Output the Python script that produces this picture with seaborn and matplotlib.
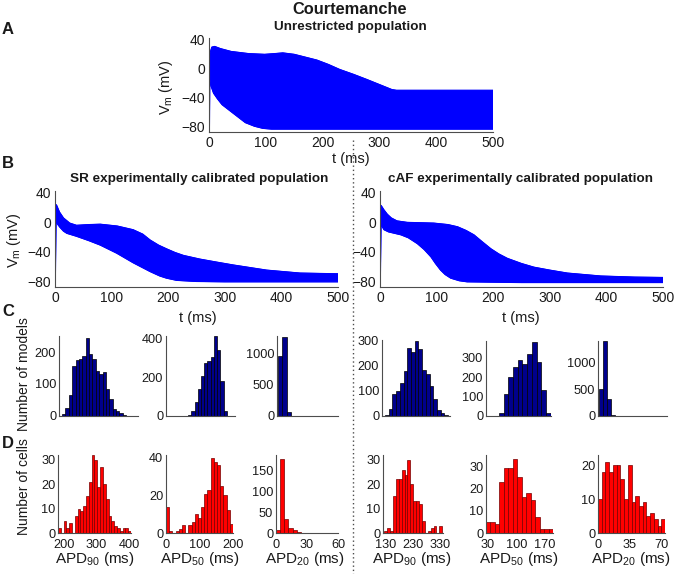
import numpy as np
import pandas as pd
import matplotlib
matplotlib.use('Agg')
import matplotlib.pyplot as plt
import seaborn as sns
from matplotlib.lines import Line2D

# Action potential envelopes (t in ms, Vm in mV)
# A: unrestricted population
a_up_t = [0, 1, 5, 10, 20, 39, 70, 98, 115, 130, 150, 170, 190, 210, 230, 255, 278, 300, 322, 330, 500]
a_up_v = [-80, 20, 30, 31, 28, 24, 21, 20, 21, 22, 20, 16, 12, 6, -1, -8, -15, -22, -29, -30, -30]
a_lo_t = [0.8, 1.5, 4, 8, 15, 23, 41, 64, 80, 95, 110, 500]
a_lo_v = [-80, -15, -25, -34, -42, -50, -61, -75, -80, -83, -84, -84]

# B: SR calibrated population
sr_up_t = [0, 1, 2.5, 8, 15, 26, 38, 60, 80, 110, 138, 155, 168, 183, 197, 212, 227, 256, 285, 315, 374, 433, 500]
sr_up_v = [-80, 10, 24, 14, 6, -1, -4, -3, -2.5, -5, -10, -16, -24, -31, -36, -41, -45, -50, -54, -58, -65, -69, -70]
sr_lo_t = [0.6, 2, 5, 9, 15, 21, 38, 60, 80, 109, 138, 168, 185, 197, 215, 250, 300, 500]
sr_lo_v = [-80, 2, -3, -7, -12, -15, -19, -25, -31, -42, -55, -67, -73, -76, -79, -80.5, -81, -81]

# B: cAF calibrated population
caf_up_t = [0, 1, 2, 7, 13, 20, 30, 48, 95, 120, 137, 152, 166, 180, 196, 210, 225, 250, 272, 300, 331, 390, 450, 500]
caf_up_v = [-80, 10, 23, 17, 11, 6, 2, 0, -1, -3, -6, -11, -17, -26, -36, -43, -49, -56, -61, -65, -69, -73, -74.5, -75]
caf_lo_t = [0.6, 2, 4, 7, 15, 37, 50, 66, 78, 90, 98, 107, 115, 125, 140, 154, 250, 500]
caf_lo_v = [-80, 0, -6, -10, -13, -17, -21, -29, -37, -47, -56, -65, -71, -76, -79.5, -81, -82, -82]

# C: number of models per bin
sr_apd90_models = [7, 24, 66, 155, 174, 179, 189, 245, 193, 179, 142, 131, 137, 84, 53, 21, 16, 10, 3, 1]
sr_apd50_models = [5, 28, 72, 140, 205, 275, 285, 305, 415, 340, 180, 28]
sr_apd20_models = [960, 1257, 65]
caf_apd90_models = [4, 26, 89, 99, 130, 180, 270, 256, 300, 268, 183, 168, 118, 66, 24, 13, 4]
caf_apd50_models = [17, 114, 199, 253, 286, 269, 317, 381, 279, 135, 17]
caf_apd20_models = [506, 1411, 316, 12]

# D: number of cells per bin (experimental data)
sr_apd90_cells = [2, 0, 5, 2, 4, 0, 7, 10, 9, 11, 15, 21, 32, 30, 19, 27, 20, 14, 7, 5, 3, 2, 1, 2, 2, 1]
sr_apd50_cells = [14, 1, 0, 1, 2, 4, 0, 4, 6, 10, 8, 14, 21, 23, 40, 38, 36, 25, 20, 12, 5]
sr_apd20_cells = [8, 176, 33, 11, 6, 2, 1, 1, 1, 1, 1, 0, 1, 1, 1]
caf_apd90_cells = [1, 2, 1, 15, 22, 22, 26, 24, 30, 20, 13, 13, 12, 5, 0, 1, 2, 3, 0, 3]
caf_apd50_cells = [5, 5, 4, 23, 29, 29, 33, 25, 16, 18, 15, 7, 2, 2, 2]
caf_apd20_cells = [10, 18, 21, 18, 20, 20, 16, 10, 20, 9, 11, 8, 9, 5, 6, 4, 2, 4]

sns.set_style('white')
plt.rcParams['font.family'] = ['Liberation Sans', 'DejaVu Sans']
plt.rcParams['mathtext.fontset'] = 'custom'
plt.rcParams['mathtext.rm'] = 'Liberation Sans'
plt.rcParams['mathtext.it'] = 'Liberation Sans:italic'
plt.rcParams['mathtext.default'] = 'regular'

W, H = 674, 574
fig = plt.figure(figsize=(W / 100, H / 100), dpi=100)


def add_ax(l, t, r, b):
    return fig.add_axes([l / W, 1 - b / H, (r - l) / W, (b - t) / H])


def ftext(x, y, s, **kw):
    fig.text(x / W, 1 - y / H, s, ha='center', va='center', color='0.1', **kw)


def matlab_style(ax, size):
    sns.despine(ax=ax)
    for s in ['left', 'bottom']:
        ax.spines[s].set_color('0.3')
        ax.spines[s].set_linewidth(0.8)
    ax.tick_params(direction='in', length=3, width=0.6, labelsize=size,
                   color='0.3', labelcolor='0.1', pad=3)
    ax.set_xlabel('')
    ax.set_ylabel('')


def ap_panel(rect, up_t, up_v, lo_t, lo_v):
    ax = add_ax(*rect)
    t = list(up_t) + list(lo_t)[::-1]
    v = list(up_v) + list(lo_v)[::-1]
    ax.fill(t, v, color='blue', lw=0.6)
    sns.lineplot(x=up_t, y=up_v, ax=ax, color='blue', lw=0.8, sort=False)
    sns.lineplot(x=lo_t, y=lo_v, ax=ax, color='blue', lw=0.8, sort=False)
    ax.set_xlim(0, 500)
    ax.set_ylim(-88, 42)
    ax.set_xticks([0, 100, 200, 300, 400, 500])
    ax.set_yticks([-80, -40, 0, 40])
    matlab_style(ax, 10)
    return ax


def hist_panel(rect, counts, edges, color, edge, ylim, yticks, xlim, xticks=None):
    ax = add_ax(*rect)
    edges = [float(e) for e in edges]
    centers = [(a + b) / 2 for a, b in zip(edges[:-1], edges[1:])]
    df = pd.DataFrame({'x': centers, 'n': counts})
    sns.histplot(data=df, x='x', weights='n', bins=edges, color=color,
                 edgecolor=edge, linewidth=0.5, alpha=1, ax=ax)
    ax.set_xlim(*xlim)
    ax.set_ylim(*ylim)
    ax.set_yticks(yticks)
    if xticks is None:
        ax.set_xticks([])
    else:
        ax.set_xticks(xticks)
    matlab_style(ax, 9.2)
    ax.tick_params(axis='y', pad=2)
    ax.tick_params(axis='x', pad=4.5)
    return ax


# Panel A
ap_panel((209, 38.5, 493, 132), a_up_t, a_up_v, a_lo_t, a_lo_v)
# Panel B
ap_panel((55, 191.5, 338, 287), sr_up_t, sr_up_v, sr_lo_t, sr_lo_v)
ap_panel((380, 191.5, 663, 287), caf_up_t, caf_up_v, caf_lo_t, caf_lo_v)

# Panel C (model populations)
navy = (0, 0, 0.55)
hist_panel((59, 336, 138, 416), sr_apd90_models, np.arange(len(sr_apd90_models) + 1),
           navy, 'black', (0, 250), [0, 100, 200], (-0.9, 22.5))
hist_panel((166, 336, 235, 416), sr_apd50_models, np.arange(len(sr_apd50_models) + 1),
           navy, 'black', (0, 415), [0, 200, 400], (-6.8, 14.5))
hist_panel((277, 336, 338, 416), sr_apd20_models, np.arange(len(sr_apd20_models) + 1),
           navy, 'black', (0, 1270), [0, 500, 1000], (-0.2, 13.5))
hist_panel((382, 340, 450, 416), caf_apd90_models, np.arange(len(caf_apd90_models) + 1),
           navy, 'black', (0, 302), [0, 100, 200, 300], (-0.8, 17.5))
hist_panel((486, 341, 551, 416), caf_apd50_models, np.arange(len(caf_apd50_models) + 1),
           navy, 'black', (0, 386), [0, 100, 200, 300], (-2.8, 11.1))
hist_panel((598, 341, 667, 416), caf_apd20_models, np.arange(len(caf_apd20_models) + 1),
           navy, 'black', (0, 1410), [0, 500, 1000], (-0.2, 17))

# Panel D (experimental cells)
red, dred = (1, 0, 0), (0.45, 0, 0)
hist_panel((58, 455, 131, 533), sr_apd90_cells, np.linspace(183, 405, len(sr_apd90_cells) + 1),
           red, dred, (0, 32), [0, 10, 20, 30], (183, 405), [200, 300, 400])
hist_panel((166, 455, 233, 533), sr_apd50_cells, np.linspace(0, 200, len(sr_apd50_cells) + 1),
           red, dred, (0, 41.5), [0, 20, 40], (0, 200), [0, 100, 200])
hist_panel((276, 455, 338, 533), sr_apd20_cells, np.linspace(0, 60, len(sr_apd20_cells) + 1),
           red, dred, (0, 186), [0, 50, 100, 150], (0, 60), [0, 30, 60])
hist_panel((383, 455, 443, 533), caf_apd90_cells, np.linspace(127, 337, len(caf_apd90_cells) + 1),
           red, dred, (0, 32), [0, 10, 20, 30], (122, 340), [130, 230, 330])
hist_panel((486, 455, 553, 533), caf_apd50_cells, np.linspace(25, 190, len(caf_apd50_cells) + 1),
           red, dred, (0, 35), [0, 10, 20, 30], (25, 190), [30, 100, 170])
hist_panel((598, 455, 665, 533), caf_apd20_cells, np.linspace(0, 74, len(caf_apd20_cells) + 1),
           red, dred, (0, 23), [0, 10, 20], (0, 74), [0, 35, 70])

# Titles and labels
ftext(350, 10, 'Courtemanche', fontsize=11.8, fontweight='bold')
ftext(350, 27, 'Unrestricted population', fontsize=9.7, fontweight='bold')
ftext(199, 179, 'SR experimentally calibrated population', fontsize=9.7, fontweight='bold')
ftext(521, 179, 'cAF experimentally calibrated population', fontsize=9.7, fontweight='bold')
for x, y, s in [(8, 30, 'A'), (8, 163, 'B'), (8, 312, 'C'), (8, 443, 'D')]:
    ftext(x, y, s, fontsize=12, fontweight='bold')
for x, y in [(351, 159), (198, 318), (521, 318)]:
    ftext(x, y, 't (ms)', fontsize=10.5)
ftext(166, 87, r'V$_{\mathrm{m}}$ (mV)', fontsize=10.5, rotation=90)
ftext(14, 240, r'V$_{\mathrm{m}}$ (mV)', fontsize=10.5, rotation=90)
ftext(24, 374, 'Number of models', fontsize=10, rotation=90)
ftext(24, 487, 'Number of cells', fontsize=10, rotation=90)
for x, n in [(95, '90'), (200, '50'), (305, '20'), (412, '90'), (519, '50'), (631, '20')]:
    ftext(x, 559, r'APD$_{%s}$ (ms)' % n, fontsize=11)

# dotted separator between SR and cAF
fig.add_artist(Line2D([353 / W, 353 / W], [1 - 140 / H, 0], color='0.3',
                      linestyle=(0, (1, 2)), lw=1))

fig.savefig('out.png', dpi=100)
